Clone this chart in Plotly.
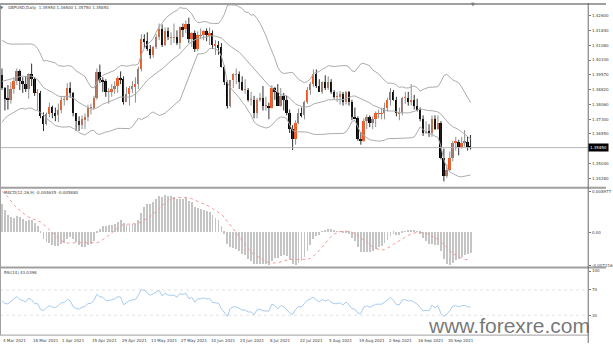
import pandas as pd
import plotly.graph_objects as go

SYMBOL = "GBPUSD,Daily"
START_DATE = "2021-03-04"

# closes before the first drawn bar, used only for the indicator look-back
PRIOR_CLOSE = [
    1.3570, 1.3610, 1.3610, 1.3570, 1.3565, 1.3515, 1.3645, 1.3660, 1.3680, 1.3590,
    1.3600, 1.3615, 1.3660, 1.3735, 1.3685, 1.3675, 1.3715, 1.3685, 1.3730, 1.3705,
    1.3670, 1.3655, 1.3650, 1.3665, 1.3730, 1.3760, 1.3820, 1.3870, 1.3840, 1.3850,
    1.3890, 1.3930, 1.3885, 1.3955, 1.4010, 1.4070, 1.4135, 1.4145, 1.3930, 1.3925,
    1.3935, 1.3950, 1.3960,
]

OPEN = [
    1.3955, 1.3890,
    1.3835, 1.3830, 1.3885, 1.3925, 1.3975, 1.3925, 1.3910, 1.3885, 1.3960, 1.3935,
    1.3865, 1.3865, 1.3745, 1.3705, 1.3755, 1.3795, 1.3760, 1.3750, 1.3780, 1.3830,
    1.3830, 1.3890, 1.3865, 1.3760, 1.3720, 1.3700, 1.3730, 1.3740, 1.3790, 1.3790,
    1.3840, 1.3970, 1.3930, 1.3925, 1.3870, 1.3870, 1.3885, 1.3900, 1.3940, 1.3935,
    1.3820, 1.3860, 1.3890, 1.3900, 1.3910, 1.3990, 1.4140, 1.4130, 1.4090, 1.4060,
    1.4100, 1.4150, 1.4190, 1.4110, 1.4180, 1.4150, 1.4150, 1.4150, 1.4120, 1.4200,
    1.4190, 1.4220, 1.4140, 1.4170, 1.4090, 1.4160, 1.4160, 1.4180, 1.4160, 1.4170,
    1.4110, 1.4110, 1.4100, 1.4000, 1.3920, 1.3800, 1.3930, 1.3960, 1.3960, 1.3920,
    1.3880, 1.3880, 1.3830, 1.3830, 1.3760, 1.3830, 1.3840, 1.3800, 1.3800, 1.3790,
    1.3890, 1.3870, 1.3800, 1.3850, 1.3830, 1.3760, 1.3680, 1.3630, 1.3710, 1.3760,
    1.3750, 1.3820, 1.3880, 1.3910, 1.3960, 1.3900, 1.3870, 1.3920, 1.3890, 1.3920,
    1.3870, 1.3845, 1.3845, 1.3860, 1.3820, 1.3870, 1.3820, 1.3740, 1.3735, 1.3630,
    1.3620, 1.3720, 1.3740, 1.3710, 1.3730, 1.3760, 1.3760, 1.3760, 1.3790, 1.3830,
    1.3870, 1.3830, 1.3760, 1.3760, 1.3840, 1.3840, 1.3820, 1.3830, 1.3800, 1.3780,
    1.3730, 1.3660, 1.3670, 1.3660, 1.3730, 1.3680, 1.3710, 1.3530, 1.3440, 1.3470,
    1.3530, 1.3610, 1.3615, 1.3590, 1.3610, 1.3615, 1.3595,
]
HIGH = [
    1.3990, 1.3895,
    1.3905, 1.3920, 1.3945, 1.3990, 1.3985, 1.3945, 1.3950, 1.3965, 1.4015, 1.3945,
    1.3885, 1.3875, 1.3765, 1.3765, 1.3815, 1.3800, 1.3790, 1.3810, 1.3850, 1.3850,
    1.3915, 1.3920, 1.3870, 1.3760, 1.3745, 1.3750, 1.3760, 1.3805, 1.3810, 1.3850,
    1.3990, 1.4010, 1.3945, 1.3935, 1.3890, 1.3910, 1.3925, 1.3950, 1.3975, 1.3950,
    1.3895, 1.3900, 1.3925, 1.3945, 1.4000, 1.4165, 1.4165, 1.4175, 1.4110, 1.4105,
    1.4165, 1.4220, 1.4215, 1.4200, 1.4200, 1.4175, 1.4220, 1.4185, 1.4205, 1.4220,
    1.4235, 1.4250, 1.4175, 1.4185, 1.4180, 1.4195, 1.4185, 1.4195, 1.4200, 1.4185,
    1.4135, 1.4130, 1.4120, 1.4005, 1.3930, 1.3930, 1.3965, 1.3990, 1.3975, 1.3950,
    1.3935, 1.3890, 1.3870, 1.3850, 1.3840, 1.3865, 1.3900, 1.3845, 1.3815, 1.3905,
    1.3895, 1.3910, 1.3890, 1.3865, 1.3850, 1.3780, 1.3700, 1.3725, 1.3785, 1.3790,
    1.3825, 1.3895, 1.3920, 1.3985, 1.3985, 1.3935, 1.3925, 1.3955, 1.3950, 1.3935,
    1.3880, 1.3870, 1.3875, 1.3870, 1.3875, 1.3875, 1.3830, 1.3790, 1.3745, 1.3665,
    1.3735, 1.3755, 1.3750, 1.3745, 1.3770, 1.3780, 1.3790, 1.3815, 1.3840, 1.3890,
    1.3880, 1.3845, 1.3790, 1.3845, 1.3870, 1.3870, 1.3910, 1.3855, 1.3835, 1.3790,
    1.3750, 1.3720, 1.3705, 1.3750, 1.3750, 1.3750, 1.3720, 1.3580, 1.3500, 1.3565,
    1.3620, 1.3640, 1.3625, 1.3640, 1.3675, 1.3640, 1.3650,
]
LOW = [
    1.3880, 1.3775,
    1.3780, 1.3810, 1.3860, 1.3905, 1.3880, 1.3865, 1.3870, 1.3835, 1.3900, 1.3850,
    1.3775, 1.3735, 1.3670, 1.3700, 1.3740, 1.3735, 1.3720, 1.3715, 1.3760, 1.3800,
    1.3825, 1.3840, 1.3745, 1.3670, 1.3670, 1.3680, 1.3680, 1.3720, 1.3755, 1.3780,
    1.3830, 1.3915, 1.3870, 1.3845, 1.3810, 1.3845, 1.3860, 1.3865, 1.3910, 1.3805,
    1.3820, 1.3800, 1.3865, 1.3815, 1.3885, 1.3975, 1.4095, 1.4080, 1.4040, 1.4045,
    1.4090, 1.4135, 1.4100, 1.4105, 1.4135, 1.4110, 1.4120, 1.4110, 1.4090, 1.4150,
    1.4170, 1.4120, 1.4100, 1.4075, 1.4080, 1.4140, 1.4135, 1.4130, 1.4110, 1.4090,
    1.4060, 1.4060, 1.3995, 1.3905, 1.3785, 1.3790, 1.3890, 1.3910, 1.3885, 1.3875,
    1.3860, 1.3820, 1.3800, 1.3735, 1.3735, 1.3820, 1.3775, 1.3775, 1.3730, 1.3785,
    1.3830, 1.3800, 1.3795, 1.3775, 1.3750, 1.3660, 1.3572, 1.3600, 1.3705, 1.3740,
    1.3730, 1.3810, 1.3855, 1.3895, 1.3890, 1.3870, 1.3860, 1.3880, 1.3880, 1.3860,
    1.3835, 1.3820, 1.3805, 1.3800, 1.3805, 1.3800, 1.3725, 1.3730, 1.3620, 1.3600,
    1.3615, 1.3680, 1.3690, 1.3680, 1.3690, 1.3735, 1.3730, 1.3730, 1.3770, 1.3800,
    1.3825, 1.3745, 1.3725, 1.3750, 1.3810, 1.3800, 1.3800, 1.3780, 1.3770, 1.3720,
    1.3645, 1.3655, 1.3640, 1.3640, 1.3675, 1.3675, 1.3525, 1.3412, 1.3430, 1.3465,
    1.3515, 1.3570, 1.3545, 1.3580, 1.3590, 1.3570, 1.3575,
]
CLOSE = [
    1.3890, 1.3835,
    1.3830, 1.3885, 1.3925, 1.3975, 1.3925, 1.3910, 1.3885, 1.3960, 1.3935, 1.3865,
    1.3865, 1.3745, 1.3705, 1.3755, 1.3795, 1.3760, 1.3750, 1.3780, 1.3830, 1.3830,
    1.3890, 1.3865, 1.3760, 1.3720, 1.3700, 1.3730, 1.3740, 1.3790, 1.3790, 1.3840,
    1.3970, 1.3930, 1.3925, 1.3870, 1.3870, 1.3885, 1.3900, 1.3940, 1.3935, 1.3820,
    1.3860, 1.3890, 1.3900, 1.3910, 1.3990, 1.4140, 1.4130, 1.4090, 1.4060, 1.4100,
    1.4150, 1.4190, 1.4110, 1.4180, 1.4150, 1.4150, 1.4150, 1.4120, 1.4200, 1.4190,
    1.4220, 1.4140, 1.4170, 1.4090, 1.4160, 1.4160, 1.4180, 1.4160, 1.4170, 1.4110,
    1.4110, 1.4100, 1.4000, 1.3920, 1.3800, 1.3930, 1.3960, 1.3960, 1.3920, 1.3880,
    1.3880, 1.3830, 1.3830, 1.3760, 1.3830, 1.3840, 1.3800, 1.3800, 1.3790, 1.3890,
    1.3870, 1.3800, 1.3850, 1.3830, 1.3760, 1.3680, 1.3630, 1.3710, 1.3760, 1.3750,
    1.3820, 1.3880, 1.3910, 1.3960, 1.3900, 1.3870, 1.3920, 1.3890, 1.3920, 1.3870,
    1.3845, 1.3845, 1.3860, 1.3820, 1.3870, 1.3820, 1.3740, 1.3735, 1.3630, 1.3620,
    1.3720, 1.3740, 1.3710, 1.3730, 1.3760, 1.3760, 1.3760, 1.3790, 1.3830, 1.3870,
    1.3830, 1.3760, 1.3760, 1.3840, 1.3840, 1.3820, 1.3830, 1.3800, 1.3780, 1.3730,
    1.3660, 1.3670, 1.3660, 1.3730, 1.3680, 1.3710, 1.3530, 1.3440, 1.3470, 1.3530,
    1.3610, 1.3615, 1.3590, 1.3610, 1.3615, 1.3590, 1.3585,
]

PRICE_TICKS = [1.42600, 1.41840, 1.41080, 1.40330, 1.39570, 1.38820,
               1.38060, 1.37300, 1.36550, 1.35040, 1.34280]
PRICE_RANGE = [1.3387, 1.4315]
RSI_TICKS = [100, 70, 30]
RSI_LEVELS = [70, 30]
DATE_LABEL_STEP = 10

# ---------------------------------------------------------------- indicators
n = len(CLOSE)
closes = pd.Series(PRIOR_CLOSE + CLOSE, dtype=float)
mid = closes.rolling(20).mean()
dev = closes.rolling(20).std(ddof=0)
bb_up = (mid + 2 * dev).iloc[-n:].to_numpy()
bb_mid = mid.iloc[-n:].to_numpy()
bb_lo = (mid - 2 * dev).iloc[-n:].to_numpy()

ema_fast = closes.ewm(span=12, adjust=False).mean()
ema_slow = closes.ewm(span=26, adjust=False).mean()
macd_full = ema_fast - ema_slow
signal_full = macd_full.rolling(9).mean()
macd = macd_full.iloc[-n:].to_numpy()
signal = signal_full.iloc[-n:].to_numpy()

delta = closes.diff()
gain = delta.clip(lower=0).ewm(alpha=1 / 14, adjust=False).mean()
loss = (-delta.clip(upper=0)).ewm(alpha=1 / 14, adjust=False).mean()
rsi = (100 - 100 / (1 + gain / loss)).iloc[-n:].to_numpy()

dates = pd.bdate_range(START_DATE, periods=n)
idx = list(range(n))

# ---------------------------------------------------------------- geometry
W, H = 613, 345
AX_X = 595                      # price scale line


def py(px):
    return 1 - px / H


X_DOM = [0, AX_X / W]
MAIN_DOM = [py(186), py(2)]
MACD_DOM = [py(266), py(191)]
RSI_DOM = [py(336), py(272)]
X_RANGE = [-2 / 3, AX_X / 3 - 2 / 3]

BULL = "#f0561d"
BEAR = "#000000"
TXT = "#3c3c3c"
FONT = "DejaVu Sans"

fig = go.Figure()

# wicks
for up, col in ((True, "#8f8f8f"), (False, "#303030")):
    wx, wy = [], []
    for i in idx:
        if (CLOSE[i] >= OPEN[i]) == up:
            wx += [i, i, None]
            wy += [LOW[i], HIGH[i], None]
    fig.add_trace(go.Scatter(x=wx, y=wy, mode="lines", line=dict(color=col, width=1),
                             hoverinfo="skip", showlegend=False, xaxis="x", yaxis="y"))

# bodies
body_base = [min(o, c) for o, c in zip(OPEN, CLOSE)]
body_h = [max(abs(c - o), 0.00012) for o, c in zip(OPEN, CLOSE)]
body_col = [BULL if c >= o else BEAR for o, c in zip(OPEN, CLOSE)]
fig.add_trace(go.Bar(x=idx, y=body_h, base=body_base, width=0.62,
                     marker=dict(color=body_col, line=dict(width=0)),
                     showlegend=False, xaxis="x", yaxis="y"))

# Bollinger bands
for band in (bb_up, bb_mid, bb_lo):
    fig.add_trace(go.Scatter(x=idx, y=band, mode="lines",
                             line=dict(color="#ababab", width=1),
                             showlegend=False, xaxis="x", yaxis="y"))

# current price line
last = CLOSE[-1]
fig.add_trace(go.Scatter(x=[X_RANGE[0], X_RANGE[1]], y=[last, last], mode="lines",
                         line=dict(color="#b4b4b4", width=1),
                         showlegend=False, xaxis="x", yaxis="y"))

# MACD
fig.add_trace(go.Bar(x=idx, y=macd, width=0.3,
                     marker=dict(color="#c4c4c4", line=dict(width=0)),
                     showlegend=False, xaxis="x", yaxis="y2"))
fig.add_trace(go.Scatter(x=idx, y=signal, mode="lines",
                         line=dict(color="#f09a9a", width=1, dash="dot"),
                         showlegend=False, xaxis="x", yaxis="y2"))

# RSI
for lv in RSI_LEVELS:
    fig.add_trace(go.Scatter(x=[X_RANGE[0], X_RANGE[1]], y=[lv, lv], mode="lines",
                             line=dict(color="#e2e2e2", width=1, dash="dot"),
                             showlegend=False, xaxis="x", yaxis="y3"))
fig.add_trace(go.Scatter(x=idx, y=rsi, mode="lines",
                         line=dict(color="#a6caef", width=1),
                         showlegend=False, xaxis="x", yaxis="y3"))

m_lo = float(min(macd.min(), pd.Series(signal).min()))
m_hi = float(max(macd.max(), pd.Series(signal).max()))

tickfont = dict(family=FONT, size=4, color=TXT)
common_y = dict(side="right", anchor="x", showgrid=False, zeroline=False,
                showline=False, ticks="outside", ticklen=2, tickcolor="#777",
                tickfont=tickfont, fixedrange=True)

fig.update_layout(
    width=W, height=H, margin=dict(l=0, r=0, t=0, b=0),
    paper_bgcolor="white", plot_bgcolor="white", bargap=0,
    barmode="overlay",
    xaxis=dict(domain=X_DOM, range=X_RANGE, showgrid=False, zeroline=False,
               showticklabels=False, showline=False, fixedrange=True),
    yaxis=dict(domain=MAIN_DOM, range=PRICE_RANGE, tickvals=PRICE_TICKS,
               ticktext=[f"{v:.5f}" for v in PRICE_TICKS], **common_y),
    yaxis2=dict(domain=MACD_DOM, range=[m_lo, m_hi],
                tickvals=[m_hi, 0, m_lo],
                ticktext=[f"{m_hi:.6f}", "0.00", f"{m_lo:.6f}"], **common_y),
    yaxis3=dict(domain=RSI_DOM, range=[0, 100], tickvals=RSI_TICKS,
                ticktext=[str(v) for v in RSI_TICKS], **common_y),
)

# frame lines of the terminal window
frame = "#a0a0a0"
shapes = [
    dict(x0=0, x1=1, y0=py(1), y1=py(1), line=dict(color=frame, width=2)),
    dict(x0=0, x1=1, y0=py(187.5), y1=py(187.5), line=dict(color=frame, width=2)),
    dict(x0=0, x1=1, y0=py(268.5), y1=py(268.5), line=dict(color=frame, width=2)),
    dict(x0=0, x1=AX_X / W, y0=py(337), y1=py(337), line=dict(color=frame, width=1)),
    dict(x0=0.5 / W, x1=0.5 / W, y0=py(337), y1=py(0), line=dict(color=frame, width=1)),
    dict(x0=AX_X / W, x1=AX_X / W, y0=py(345), y1=py(0), line=dict(color="#6a6a6a", width=1)),
]
for s in shapes:
    s.update(type="line", xref="paper", yref="paper", layer="above")
fig.update_layout(shapes=shapes)

small = dict(family=FONT, size=4, color=TXT)
ann = []
# panel captions
ann.append(dict(x=6 / W, y=py(4.5), xref="paper", yref="paper", xanchor="left",
                yanchor="middle", showarrow=False, font=small,
                text=f"{SYMBOL}  {OPEN[-1]:.5f} {HIGH[-1]:.5f} {LOW[-1]:.5f} {CLOSE[-1]:.5f}"))
ann.append(dict(x=2.5 / W, y=py(4.5), xref="paper", yref="paper", xanchor="center",
                yanchor="middle", showarrow=False, text="▼",
                font=dict(family=FONT, size=4, color="#666")))
ann.append(dict(x=2 / W, y=py(192), xref="paper", yref="paper", xanchor="left",
                yanchor="middle", showarrow=False, font=small,
                text=f"MACD(12,26,9) {macd[-1]:.6f} {signal[-1]:.6f}"))
ann.append(dict(x=2 / W, y=py(273), xref="paper", yref="paper", xanchor="left",
                yanchor="middle", showarrow=False, font=small,
                text=f"RSI(14) {rsi[-1]:.4f}"))
# chart-shift marker
ann.append(dict(x=478 / W, y=py(1.5), xref="paper", yref="paper", xanchor="center",
                yanchor="middle", showarrow=False, text="▼",
                font=dict(family=FONT, size=5, color="#777")))
# current price tag
ann.append(dict(x=AX_X / W, y=last, xref="paper", yref="y", xanchor="left",
                yanchor="middle", showarrow=False, text=f"{last:.5f}",
                font=dict(family=FONT, size=4, color="white"),
                bgcolor="black", borderpad=1))
# date labels along the bottom
for i in range(0, n, DATE_LABEL_STEP):
    d = dates[i]
    ann.append(dict(x=i, y=py(342.4), xref="x", yref="paper", xanchor="left",
                    yanchor="middle", showarrow=False, font=small, borderpad=0,
                    text=f"{d.day} {d.strftime('%b %Y')}"))
# site watermark
ann.append(dict(x=598 / W, y=py(340), xref="paper", yref="paper", xanchor="right",
                yanchor="bottom", showarrow=False, text="www.forexre.com", borderpad=0,
                font=dict(family="Liberation Sans", size=21, color="rgba(95,95,95,0.85)")))
fig.update_layout(annotations=ann)

fig.write_html("out.html")
